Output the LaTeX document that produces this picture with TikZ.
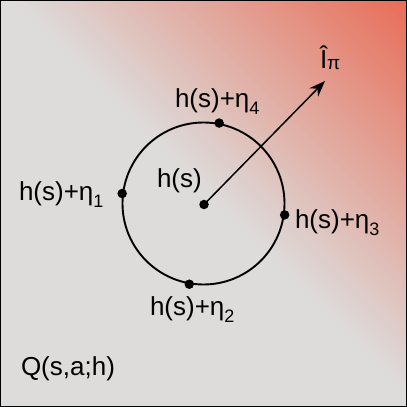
\documentclass[tikz,border=0pt]{standalone}
\usepackage{fontspec}
\setmainfont{Liberation Sans}
\usetikzlibrary{arrows.meta}
\definecolor{bggrey}{RGB}{221,220,219}
\definecolor{bgred}{RGB}{232,108,86}
\newcommand{\sbs}[1]{\raisebox{-0.28em}{\fontsize{18bp}{18bp}\selectfont #1}}
\begin{document}
\begin{tikzpicture}[x=1bp,y=1bp,
  lbl/.style={anchor=base west,inner sep=0pt,outer sep=0pt,font=\fontsize{26bp}{30bp}\selectfont},
  dot/.style={circle,fill=black,inner sep=0pt,minimum size=9.5bp},
  ring/.style={circle,draw=black,line width=1.9bp,minimum size=162bp,inner sep=0pt}]
\useasboundingbox (0,0) rectangle (407,407);
\begin{scope}
  \clip (0,0) rectangle (407,407);
  \fill[bggrey] (0,0) rectangle (407,407);
  \begin{scope}[shift={(203.5,203.5)},rotate=45]
    \foreach \i in {0,...,69}{
      \pgfmathsetmacro{\u}{10+4*\i}
      \pgfmathsetmacro{\p}{(\i+0.5)/70*100}
      \fill[bgred!\p!bggrey] (\u,-320) rectangle (\u+4.6,320);
    }
    \fill[bgred] (290,-320) rectangle (400,320);
  \end{scope}
\end{scope}
\draw[black,line width=1.5bp] (0.75,0.75) rectangle (406.25,406.25);
% circle and points
\node[ring] (c) at (203.5,203.5) {};
\node[dot] (ctr) at (204,202.5) {};
\node[dot] (p1) at (c.173) {};
\node[dot] (p2) at (c.260.5) {};
\node[dot] (p3) at (c.-8) {};
\node[dot] (p4) at (c.79.5) {};
\coordinate (tip) at (325,326);
\draw[line width=1.5bp,-{Stealth[length=16bp,width=12bp]}] (ctr.center) -- (tip);
% labels
\node[lbl] (l4) at (175,300) {h(s)+η\sbs{4}};
\node[lbl] (l1) at (19,207) {h(s)+η\sbs{1}};
\node[lbl] (l3) at (295,179) {h(s)+η\sbs{3}};
\node[lbl] (l2) at (150,92) {h(s)+η\sbs{2}};
\node[lbl] (l0) at (157,220) {h(s)};
\node[lbl] (lq) at (21,32) {Q(s,a;h)};
\node[lbl] (li) at (320,339) {Î\raisebox{-0.05em}{\fontsize{19bp}{19bp}\selectfont π}};
\end{tikzpicture}
\end{document}
